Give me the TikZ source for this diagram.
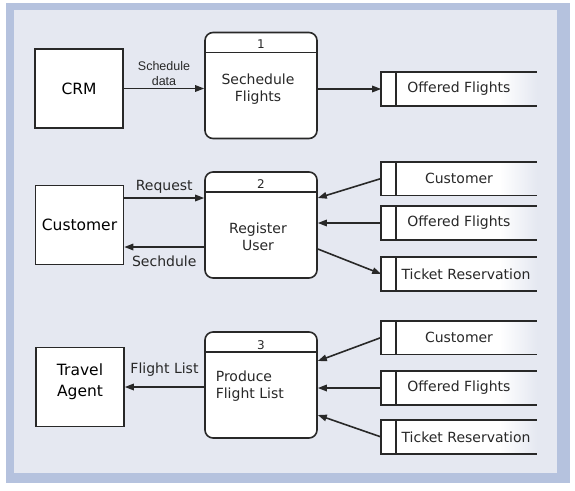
\documentclass[tikz,border=0pt]{standalone}
\usepackage{fontspec}
\setmainfont{DejaVu Sans}
\newfontfamily\flowfont{Liberation Sans}
\usepackage{tikz}
\usetikzlibrary{arrows.meta,positioning,calc}

\definecolor{framec}{RGB}{181,194,222}
\definecolor{panelc}{RGB}{229,232,241}
\definecolor{linec}{RGB}{40,40,40}

\pgfdeclarehorizontalshading{storefade}{100bp}{color(0bp)=(white); color(25bp)=(white); color(63bp)=(white); color(75bp)=(panelc); color(100bp)=(panelc)}

\begin{document}
\begin{tikzpicture}[x=1pt, y=-1pt, line width=1.6pt,
  >={Triangle[length=9pt,width=6.5pt]},
  entity/.style={draw=linec, fill=white, minimum width=88pt, minimum height=79pt, inner sep=0pt, align=center, font=\fontsize{15.5}{21}\selectfont},
  process/.style={draw=linec, fill=white, rounded corners=8pt, minimum width=112pt, minimum height=106pt, inner sep=0pt,
    path picture={\draw[linec, line width=1.6pt] ([yshift=-20pt]path picture bounding box.north west) -- ([yshift=-20pt]path picture bounding box.north east);}},
  num/.style={font=\fontsize{12}{14}\selectfont, inner sep=0pt, text=linec},
  proctext/.style={align=center, inner sep=0pt, font=\fontsize{14}{17}\selectfont, text=linec},
  store/.style={minimum width=154pt, minimum height=32pt, inner sep=0pt, font=\fontsize{14}{16}\selectfont, text=linec,
    append after command={\pgfextra{
      \shade[shading=storefade] (\tikzlastnode.south west) rectangle (\tikzlastnode.north east);
      \draw[linec, line width=1.6pt] (\tikzlastnode.north east) -- (\tikzlastnode.north west) -- (\tikzlastnode.south west) -- (\tikzlastnode.south east);
      \draw[linec, line width=1.6pt] ([xshift=15pt]\tikzlastnode.north west) -- ([xshift=15pt]\tikzlastnode.south west);}}},
  flow/.style={draw=linec, ->},
  flowlabel/.style={font=\fontsize{14}{16}\selectfont, text=linec}]

\useasboundingbox (0,0) rectangle (575,490);
% Frame
\fill[framec] (6,3) rectangle (570,483);
\fill[panelc] (14,10) rectangle (557,473);

% External entities
\node[entity] (crm) at (79,88.5) {CRM};
\node[entity] (c2) at (79.5,225) {Customer};
\node[entity, text depth=13pt] (ta) at (80,387) {Travel\\Agent};

% Processes
\node[process] (p1) at (261,85.5) {};
\node[num] (n1) at (261,44) {1};
\node[proctext] (t1) at (258,89) {Sechedule\\Flights};
\node[process] (p2) at (261,225) {};
\node[num] (n2) at (261,184.5) {2};
\node[proctext] (t2) at (258,237) {Register\\User};
\node[process] (p3) at (261,385) {};
\node[num] (n3) at (261,345) {3};
\node[proctext, anchor=west, align=left] (t3) at (215,386) {Produce\\Flight List};

% Data stores
\node[store] (s1) at (459,89) {Offered Flights};
\node[store] (s21) at (459,178.5) {Customer};
\node[store] (s22) at (459,223) {Offered Flights};
\node[store] (s23) at (459,274) {\hspace*{14pt}Ticket Reservation};
\node[store] (s31) at (459,337.5) {Customer};
\node[store] (s32) at (459,388) {Offered Flights};
\node[store] (s33) at (459,437) {\hspace*{14pt}Ticket Reservation};

% Data flows
\draw[flow] (crm.east) -- (crm.east -| p1.west) node[midway, above, inner sep=2pt, align=center, font=\flowfont\fontsize{12.5}{15}\selectfont, text=linec] (l1) {Schedule\\data};
\draw[flow] (p1.east |- s1.west) -- (s1.west);

\draw[flow] ([yshift=27pt]c2.east) -- ([yshift=27pt]p2.west) node[flowlabel, midway, above] (l2) {Request};
\draw[flow] ([yshift=-22pt]p2.west) -- ([yshift=-22pt]c2.east) node[flowlabel, midway, below=5pt] (l3) {Sechdule};
\draw[flow] (s21.west) -- ([yshift=27pt]p2.east);
\draw[flow] (s22.west) -- (s22.west -| p2.east);
\draw[flow] ([yshift=-24pt]p2.east) -- (s23.west);

\draw[flow] (p3.west |- ta.east) -- (ta.east) node[flowlabel, midway, above=6pt] (l4) {Flight List};
\draw[flow] (s31.west) -- ([yshift=24pt]p3.east);
\draw[flow] (s32.west) -- (s32.west -| p3.east);
\draw[flow] (s33.west) -- ([yshift=-30pt]p3.east);

\end{tikzpicture}
\end{document}
